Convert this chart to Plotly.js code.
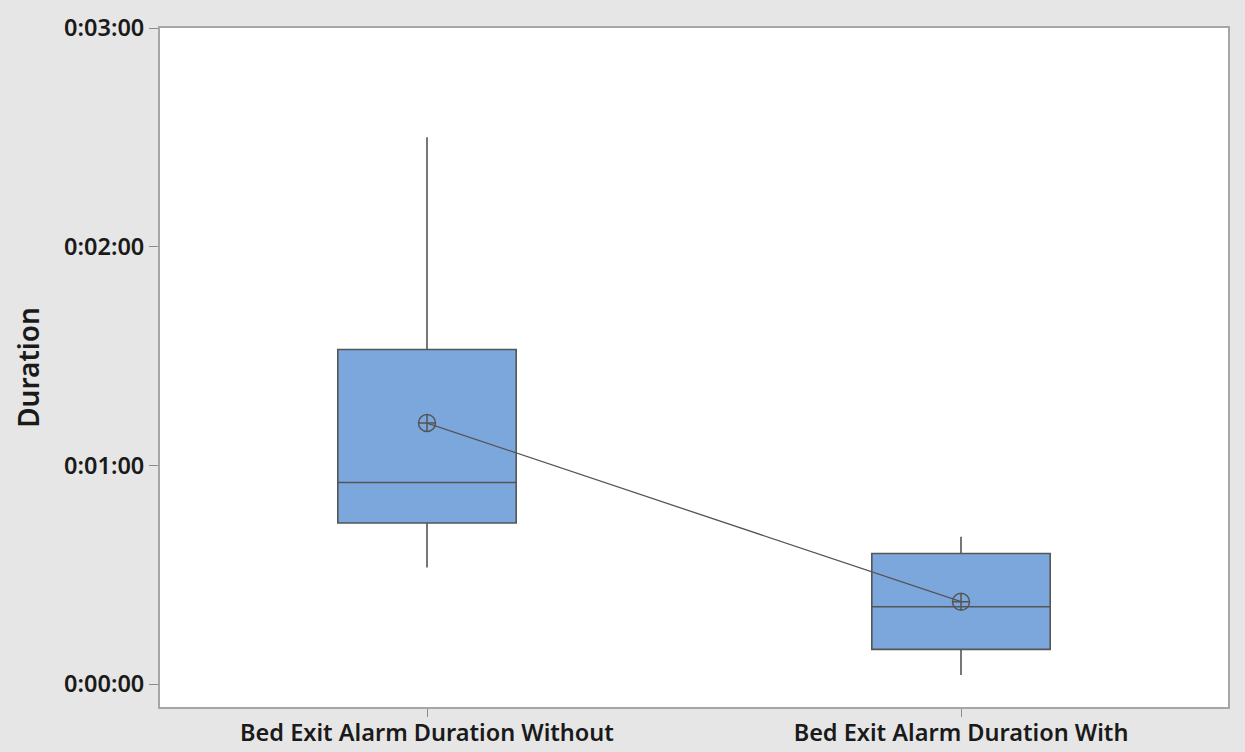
<!DOCTYPE html>
<html>
<head>
<meta charset="utf-8">
<script src="https://cdn.plot.ly/plotly-3.0.1.min.js"></script>
<style>
  html, body { margin: 0; padding: 0; background: #e6e6e6; }
  #chart { width: 1245px; height: 752px; }
</style>
</head>
<body>
<div id="chart"></div>
<script>
// Alarm duration summaries, in seconds
const groups = ["Bed Exit Alarm Duration Without", "Bed Exit Alarm Duration With"];
const lowerWhisker = [32.0, 2.5];
const q1Values = [44.2, 9.5];
const medianValues = [55.3, 21.2];
const q3Values = [91.8, 35.8];
const upperWhisker = [150.0, 40.4];
const meanValues = [71.6, 22.6];

// Y tick labels shown as h:mm:ss
const tickSeconds = [0, 60, 120, 180];
const tickLabels = ["0:00:00", "0:01:00", "0:02:00", "0:03:00"];

const lineGray = "#555555";
const textColor = "#1a1a1a";

const boxTrace = {
  type: "box",
  x: groups,
  q1: q1Values,
  median: medianValues,
  q3: q3Values,
  lowerfence: lowerWhisker,
  upperfence: upperWhisker,
  width: 0.334,
  whiskerwidth: 0,
  fillcolor: "#7ba7dc",
  line: { color: lineGray, width: 1.6 },
  boxpoints: false,
  hoverinfo: "skip",
  showlegend: false
};

const meanTrace = {
  type: "scatter",
  mode: "lines+markers",
  x: groups,
  y: meanValues,
  line: { color: lineGray, width: 1.3 },
  marker: {
    symbol: "circle-cross-open",
    size: 17,
    color: lineGray,
    line: { color: lineGray, width: 1.5 }
  },
  hoverinfo: "skip",
  showlegend: false
};

const tickFont = { family: "Noto Sans, Open Sans, sans-serif", size: 23.5, color: textColor, weight: 600 };

const layout = {
  width: 1245,
  height: 752,
  paper_bgcolor: "#e6e6e6",
  plot_bgcolor: "#ffffff",
  margin: { l: 160, r: 17, t: 28, b: 45 },
  font: { family: "Noto Sans, Open Sans, sans-serif", color: textColor, size: 23 },
  xaxis: {
    type: "category",
    range: [-0.5, 1.5],
    showgrid: false,
    zeroline: false,
    showline: true,
    mirror: true,
    linecolor: "#a6a6a6",
    linewidth: 2,
    ticks: "outside",
    ticklen: 8,
    tickcolor: "#8c8c8c",
    tickwidth: 1,
    ticklabelstandoff: -4,
    tickfont: tickFont
  },
  yaxis: {
    range: [-6.3, 180],
    tickvals: tickSeconds,
    ticktext: tickLabels,
    showgrid: false,
    zeroline: false,
    showline: true,
    mirror: true,
    linecolor: "#a6a6a6",
    linewidth: 2,
    ticks: "outside",
    ticklen: 9,
    tickcolor: "#8c8c8c",
    tickwidth: 1,
    tickfont: tickFont,
    title: {
      text: "Duration",
      font: { family: "Noto Sans, Open Sans, sans-serif", size: 28, color: textColor, weight: 600 },
      standoff: 16
    }
  }
};

Plotly.newPlot("chart", [boxTrace, meanTrace], layout, { displayModeBar: false, staticPlot: true });
</script>
</body>
</html>
